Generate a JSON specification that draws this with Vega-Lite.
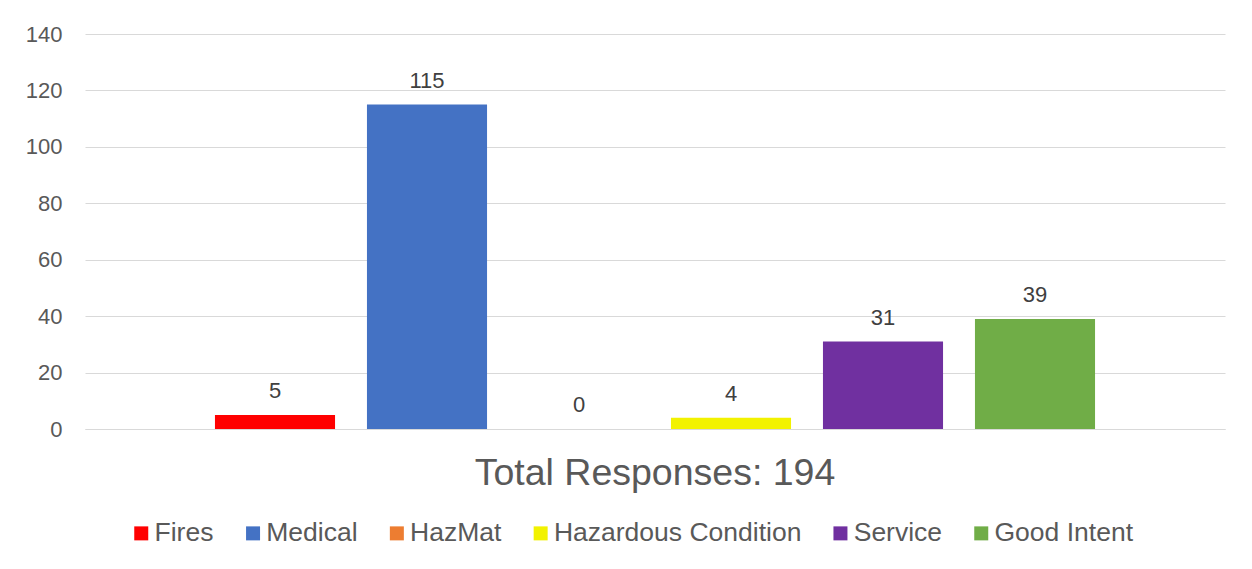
{
  "$schema": "https://vega.github.io/schema/vega-lite/v6.json",
  "width": 1140,
  "height": 395,
  "autosize": {"type": "none"},
  "padding": {"left": 85, "top": 34, "right": 27, "bottom": 140},
  "background": "white",
  "config": {
    "font": "Liberation Sans",
    "view": {"stroke": null}
  },
  "data": {
    "values": [
      {"category": "Total Responses: 194", "type": "Fires", "count": 5},
      {"category": "Total Responses: 194", "type": "Medical", "count": 115},
      {"category": "Total Responses: 194", "type": "HazMat", "count": 0},
      {"category": "Total Responses: 194", "type": "Hazardous Condition", "count": 4},
      {"category": "Total Responses: 194", "type": "Service", "count": 31},
      {"category": "Total Responses: 194", "type": "Good Intent", "count": 39}
    ]
  },
  "encoding": {
    "x": {
      "field": "category",
      "type": "nominal",
      "scale": {"paddingInner": 0, "paddingOuter": 0.125},
      "axis": {
        "title": null,
        "labelAngle": 0,
        "domain": true,
        "domainColor": "#d9d9d9",
        "domainWidth": 1,
        "ticks": false,
        "labelFontSize": 37.5,
        "labelColor": "#595959",
        "labelPadding": 25,
        "labelLimit": 0
      }
    },
    "xOffset": {
      "field": "type",
      "type": "nominal",
      "sort": ["Fires", "Medical", "HazMat", "Hazardous Condition", "Service", "Good Intent"],
      "scale": {"paddingInner": 0.21, "paddingOuter": 0.105}
    },
    "y": {
      "field": "count",
      "type": "quantitative",
      "scale": {"domain": [0, 140], "nice": false},
      "axis": {
        "title": null,
        "values": [0, 20, 40, 60, 80, 100, 120, 140],
        "domain": false,
        "ticks": false,
        "gridColor": "#d9d9d9",
        "gridWidth": 1,
        "labelFontSize": 22,
        "labelColor": "#595959",
        "labelPadding": 23
      }
    }
  },
  "layer": [
    {
      "mark": {"type": "bar"},
      "encoding": {
        "color": {
          "field": "type",
          "type": "nominal",
          "sort": ["Fires", "Medical", "HazMat", "Hazardous Condition", "Service", "Good Intent"],
          "scale": {
            "domain": ["Fires", "Medical", "HazMat", "Hazardous Condition", "Service", "Good Intent"],
            "range": ["#FF0000", "#4472C4", "#ED7D31", "#F2F200", "#7030A0", "#70AD47"]
          },
          "legend": {
            "title": null,
            "orient": "none",
            "legendX": 43,
            "legendY": 486,
            "direction": "horizontal",
            "symbolType": "square",
            "symbolSize": 196,
            "symbolStrokeWidth": 0,
            "labelFontSize": 26.5,
            "labelColor": "#595959",
            "labelOffset": 0,
            "columnPadding": 25.8,
            "labelLimit": 400
          }
        }
      }
    },
    {
      "mark": {"type": "text", "baseline": "alphabetic", "dy": -17, "fontSize": 22, "color": "#404040"},
      "encoding": {
        "text": {"field": "count", "type": "quantitative"}
      }
    }
  ]
}
